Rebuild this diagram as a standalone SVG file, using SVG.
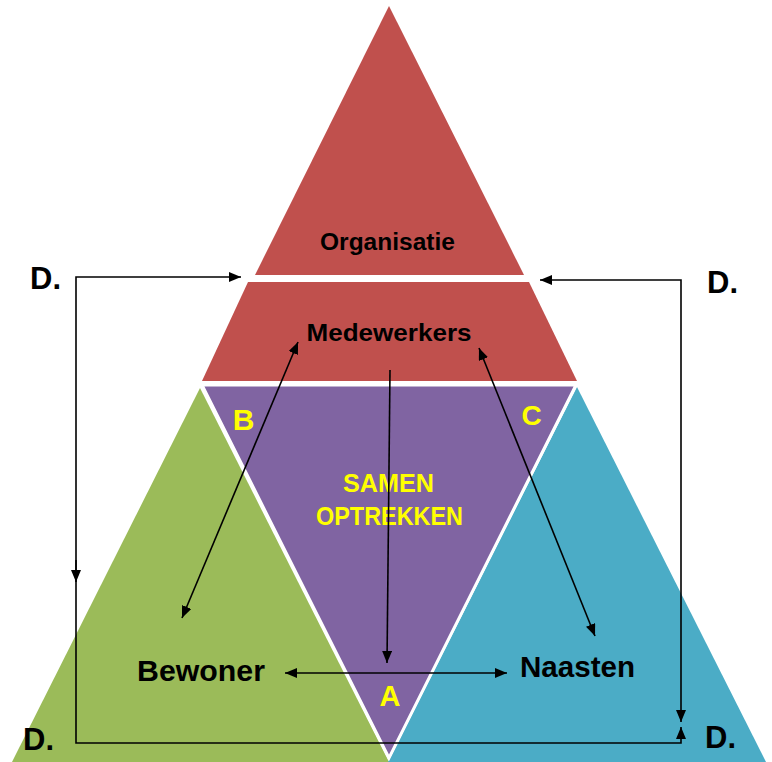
<svg xmlns="http://www.w3.org/2000/svg" width="772" height="762" viewBox="0 0 772 762">
<style>
.lbl{font-family:"Liberation Sans",Arial,sans-serif;font-weight:bold;fill:#000;text-anchor:middle}
.yl{font-family:"Liberation Sans",Arial,sans-serif;font-weight:bold;fill:#FFFF00;text-anchor:middle}
.dl{font-family:"Liberation Sans",Arial,sans-serif;font-weight:bold;fill:#000;font-size:31px}
.ln{fill:none;stroke:#000;stroke-width:1.6}
</style>
<defs>
<marker id="ah" viewBox="0 0 12 10" refX="12" refY="5" markerWidth="12" markerHeight="10" markerUnits="userSpaceOnUse" orient="auto-start-reverse">
<path d="M0,0 L12,5 L0,10 z" fill="#000"/>
</marker>
</defs>
<rect width="772" height="762" fill="#fff"/>
<g id="bewoner">
<polygon points="200,388 12,762 389,762" fill="#9BBB59"/>
<text class="lbl" x="201" y="681" font-size="30" textLength="128" lengthAdjust="spacingAndGlyphs">Bewoner</text>
</g>
<g id="naasten">
<polygon points="577,387 766,762 388,762" fill="#4BACC6"/>
<text class="lbl" x="577.5" y="677" font-size="29" textLength="115" lengthAdjust="spacingAndGlyphs">Naasten</text>
</g>
<g id="samen">
<polygon points="202,385 576,385 389,758" fill="#8064A2" stroke="#fff" stroke-width="3" stroke-linejoin="miter"/>
<text class="yl" x="243.5" y="430" font-size="30">B</text>
<text class="yl" x="531.5" y="425" font-size="28">C</text>
<text class="yl" x="388.5" y="492" font-size="25" textLength="91" lengthAdjust="spacingAndGlyphs">SAMEN</text>
<text class="yl" x="389.5" y="525" font-size="25" textLength="147" lengthAdjust="spacingAndGlyphs">OPTREKKEN</text>
<text class="yl" x="390" y="706" font-size="29">A</text>
</g>
<g id="organisatie">
<polygon points="389,6 255,275 524,275" fill="#C0504D"/>
<text class="lbl" x="387.5" y="250" font-size="23" textLength="135" lengthAdjust="spacingAndGlyphs">Organisatie</text>
</g>
<g id="medewerkers">
<polygon points="248,282 529,282 577,381 202,381" fill="#C0504D"/>
<text class="lbl" x="389" y="341" font-size="24" textLength="165" lengthAdjust="spacingAndGlyphs">Medewerkers</text>
</g>
<g id="d-labels">
<text class="dl" x="30" y="289">D.</text>
<text class="dl" x="707" y="293">D.</text>
<text class="dl" x="23" y="750">D.</text>
<text class="dl" x="705" y="748">D.</text>
</g>
<g id="connectors">
<path class="ln" d="M241,277 H76 V743 H681 V727" marker-start="url(#ah)" marker-end="url(#ah)"/>
<path class="ln" d="M76,560 V582" marker-end="url(#ah)"/>
<path class="ln" d="M540,280 H681 V722" marker-start="url(#ah)" marker-end="url(#ah)"/>
<path class="ln" d="M298,342 L182,618" marker-start="url(#ah)" marker-end="url(#ah)"/>
<path class="ln" d="M479,348 L595,636" marker-start="url(#ah)" marker-end="url(#ah)"/>
<path class="ln" d="M390,370 L387,663" marker-end="url(#ah)"/>
<path class="ln" d="M285,673 H507" marker-start="url(#ah)" marker-end="url(#ah)"/>
</g>
</svg>
